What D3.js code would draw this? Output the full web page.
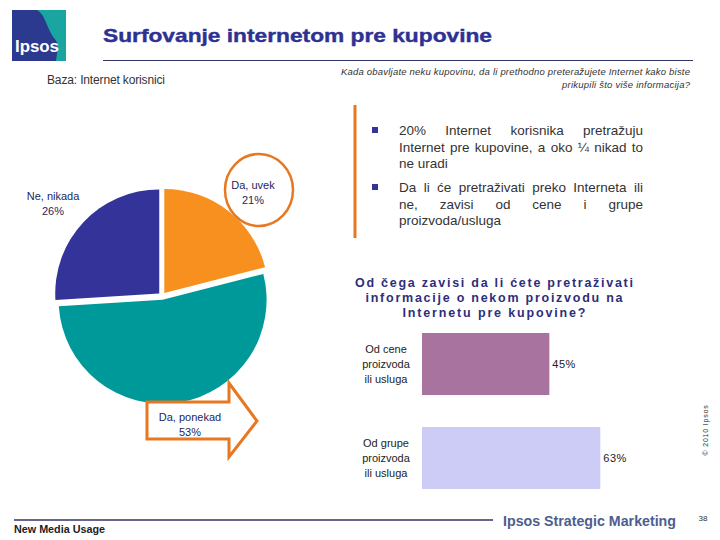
<!DOCTYPE html>
<html>
<head>
<meta charset="utf-8">
<script src="https://cdn.jsdelivr.net/npm/d3@7"></script>
<style>
  html, body { margin: 0; padding: 0; background: #fff; }
  svg { display: block; }
  text { font-family: "Liberation Sans", Arial, sans-serif; }
</style>
</head>
<body>
<svg id="chart" width="720" height="540"></svg>
<script>
// ---- data ----
const pieLabels = ["Da, uvek", "Da, ponekad", "Ne, nikada"];
const pieValues = [21, 53, 26];
const pieColors = ["#F7901E", "#009999", "#333399"];

const barCategories = ["Od cene proizvoda ili usluga", "Od grupe proizvoda ili usluga"];
const barCategoryLines = [["Od cene", "proizvoda", "ili usluga"], ["Od grupe", "proizvoda", "ili usluga"]];
const barValues = [45, 63];
const barColors = ["#A8739F", "#CCCCF7"];

const titleText = "Surfovanje internetom pre kupovine";
const baseText = "Baza: Internet korisnici";
const questionLines = ["Kada obavljate neku kupovinu, da li prethodno preteražujete Internet kako biste", "prikupili što više informacija?"];
const bullet1Lines = ["20% Internet korisnika pretražuju", "Internet pre kupovine, a oko ¼ nikad to", "ne uradi"];
const bullet2Lines = ["Da li će pretraživati preko Interneta ili", "ne, zavisi od cene i grupe", "proizvoda/usluga"];
const subQuestionLines = ["Od čega zavisi da li ćete pretraživati", "informacije o nekom proizvodu na", "Internetu pre kupovine?"];

const svg = d3.select("#chart");
const orange = "#E87722";
const navy = "#2E3192";

// ---- logo ----
const logo = svg.append("g");
logo.append("rect").attr("x", 12).attr("y", 10).attr("width", 54).attr("height", 51).attr("fill", "#2B3A8F");
logo.append("path").attr("d", "M37,10 L66,10 L66,61 L56,61 C57,52 60,44 54,38 C50,33 47,24 44,18 C42,14 40,12 37,10 Z").attr("fill", "#1BA5A0");
logo.append("path").attr("d", "M33,14 C39,13 44,17 44,23 C45,26 47,28 45,29 C44,31 45,34 42,35 C41,38 38,40 35,40 C33,34 31,28 32,22 Z").attr("fill", "#2B3A8F");
logo.append("text").attr("x", 15).attr("y", 52).attr("fill", "#fff")
  .attr("font-size", 16).attr("font-weight", "bold").attr("textLength", 44).attr("lengthAdjust", "spacingAndGlyphs").text("Ipsos");

// ---- header ----
svg.append("text").attr("x", 103).attr("y", 42).attr("fill", navy)
  .attr("font-size", 19).attr("font-weight", "bold").attr("stroke", navy).attr("stroke-width", 0.4)
  .attr("textLength", 389).attr("lengthAdjust", "spacingAndGlyphs").text(titleText);
svg.append("line").attr("x1", 103).attr("x2", 693).attr("y1", 60.5).attr("y2", 60.5).attr("stroke", "#333366").attr("stroke-width", 1);
svg.append("text").attr("x", 47).attr("y", 84).attr("fill", "#333").attr("font-size", 12).attr("textLength", 118).text(baseText);
questionLines.forEach((t, i) => {
  const tx = svg.append("text").attr("x", 690).attr("y", 75 + i * 13).attr("text-anchor", "end")
    .attr("fill", "#333").attr("font-size", 9.5).attr("font-style", "italic").text(t);
  if (i === 0) tx.attr("textLength", 349);
  else tx.attr("textLength", 128);
});

// ---- pie ----
const cx = 162, cy = 296, r = 104, explode = 3.8;
const pie = d3.pie().sort(null).value(d => d)(pieValues);
const arc = d3.arc().innerRadius(0).outerRadius(r);
const pieG = svg.append("g").attr("transform", `translate(${cx},${cy})`);
pieG.selectAll("path").data(pie).join("path")
  .attr("d", arc)
  .attr("fill", (d, i) => pieColors[i])
  .attr("transform", d => {
    const a = (d.startAngle + d.endAngle) / 2;
    return `translate(${explode * Math.sin(a)},${-explode * Math.cos(a)})`;
  });

// callouts
svg.append("ellipse").attr("cx", 259).attr("cy", 190).attr("rx", 34).attr("ry", 36)
  .attr("fill", "#fff").attr("stroke", orange).attr("stroke-width", 2.5);
svg.append("path").attr("d", "M147,402 L229,402 L229,383 L257,421 L229,457 L229,439 L147,439 Z")
  .attr("fill", "#fff").attr("stroke", orange).attr("stroke-width", 3).attr("stroke-linejoin", "miter");

const pieLabelPos = [[253, 189], [190, 421], [53, 200]];
pie.forEach((d, i) => {
  const g = svg.append("g").attr("fill", "#1F1F5C").attr("font-size", 11).attr("text-anchor", "middle");
  g.append("text").attr("x", pieLabelPos[i][0]).attr("y", pieLabelPos[i][1]).text(pieLabels[i]);
  g.append("text").attr("x", pieLabelPos[i][0]).attr("y", pieLabelPos[i][1] + 15).text(pieValues[i] + "%");
});

// ---- bullets ----
svg.append("line").attr("x1", 355).attr("x2", 355).attr("y1", 105).attr("y2", 238).attr("stroke", orange).attr("stroke-width", 3);
const textX0 = 399, textX1 = 643;
function bullet(lines, y0) {
  svg.append("rect").attr("x", 372).attr("y", y0 - 8).attr("width", 6).attr("height", 6).attr("fill", "#333399");
  lines.forEach((t, i) => {
    const yy = y0 + i * 16.7;
    const justify = i < lines.length - 1;
    if (!justify) {
      svg.append("text").attr("x", textX0).attr("y", yy).attr("fill", "#333").attr("font-size", 13.5).text(t);
      return;
    }
    const words = t.split(" ");
    const nodes = words.map(w => svg.append("text").attr("y", yy).attr("fill", "#333").attr("font-size", 13.5).text(w));
    const widths = nodes.map(n => n.node().getComputedTextLength());
    const total = d3.sum(widths);
    const gap = (textX1 - textX0 - total) / (words.length - 1);
    let xx = textX0;
    nodes.forEach((n, k) => { n.attr("x", xx); xx += widths[k] + gap; });
  });
}
bullet(bullet1Lines, 135);
bullet(bullet2Lines, 192);

// ---- sub question ----
const sqWidths = [278, 257, 183];
subQuestionLines.forEach((t, i) => {
  svg.append("text").attr("x", 494).attr("y", 287 + i * 15).attr("text-anchor", "middle")
    .attr("fill", "#2E2E7A").attr("font-size", 12.5).attr("font-weight", "bold")
    .attr("textLength", sqWidths[i]).attr("lengthAdjust", "spacing").text(t);
});

// ---- bars ----
const x = d3.scaleLinear().domain([0, 100]).range([422, 705]);
const y = d3.scaleBand().domain(barCategories).range([333, 489]).paddingInner(0.34).paddingOuter(0);
const barG = svg.append("g");
barG.selectAll("rect").data(barValues).join("rect")
  .attr("x", x(0))
  .attr("y", (d, i) => y(barCategories[i]))
  .attr("width", d => x(d) - x(0))
  .attr("height", y.bandwidth())
  .attr("fill", (d, i) => barColors[i]);
barG.selectAll("text.val").data(barValues).join("text").attr("class", "val")
  .attr("x", d => x(d) + 3)
  .attr("y", (d, i) => y(barCategories[i]) + y.bandwidth() / 2 + 4)
  .attr("font-size", 11).attr("fill", "#222").attr("letter-spacing", 0.5)
  .text(d => d + "%");
barCategories.forEach((c, i) => {
  const cyb = y(c) + y.bandwidth() / 2;
  barCategoryLines[i].forEach((t, j) => {
    svg.append("text").attr("x", 386).attr("y", cyb + 4 + (j - 1) * 15).attr("text-anchor", "middle")
      .attr("font-size", 11).attr("fill", "#222").text(t);
  });
});

// ---- footer ----
svg.append("text").attr("transform", "translate(708,430) rotate(-90)").attr("text-anchor", "middle")
  .attr("font-size", 7).attr("fill", "#333").attr("letter-spacing", 0.8).text("© 2010 Ipsos");
svg.append("line").attr("x1", 14).attr("x2", 493).attr("y1", 520).attr("y2", 520).attr("stroke", "#333366").attr("stroke-width", 1.5);
svg.append("text").attr("x", 503).attr("y", 526).attr("font-size", 15).attr("font-weight", "bold")
  .attr("fill", "#4D5E8E").attr("textLength", 173).attr("lengthAdjust", "spacingAndGlyphs")
  .style("font-family", "'Liberation Sans Narrow', 'Liberation Sans', sans-serif").text("Ipsos Strategic Marketing");
svg.append("text").attr("x", 703).attr("y", 521).attr("text-anchor", "middle").attr("font-size", 8).attr("fill", "#333").text("38");
svg.append("text").attr("x", 14).attr("y", 533).attr("font-size", 10.5).attr("font-weight", "bold").attr("fill", "#222")
  .attr("textLength", 91).attr("lengthAdjust", "spacingAndGlyphs").text("New Media Usage");
</script>
</body>
</html>
